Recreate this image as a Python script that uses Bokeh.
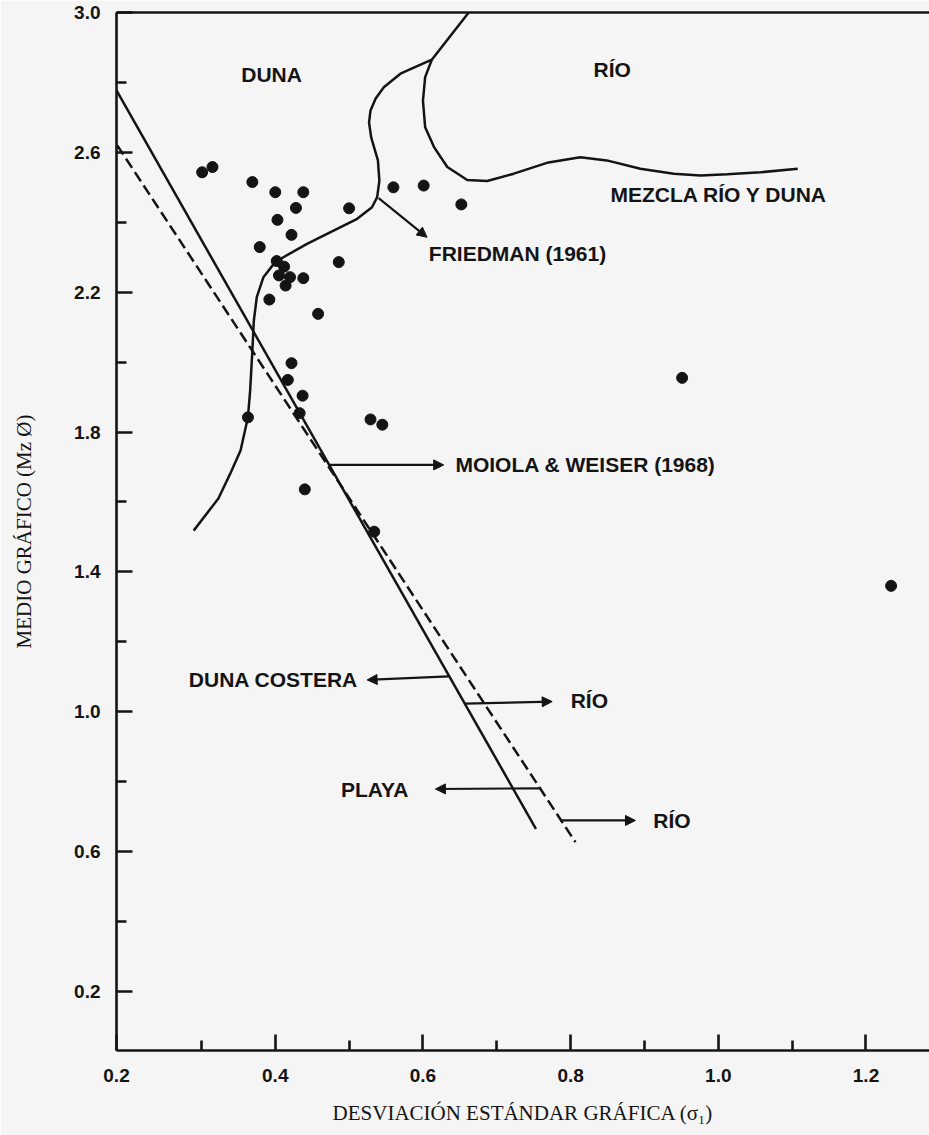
from bokeh.plotting import figure
from bokeh.models import (FixedTicker, LinearAxis, Arrow, NormalHead, Range1d,
                          NumeralTickFormatter)
from bokeh.core.properties import value
from bokeh.embed import file_html
from bokeh.resources import INLINE

# --- sample points: graphic standard deviation (sigma1) vs graphic mean (Mz, phi)
sigma1 = [0.301, 0.315, 0.369, 0.400, 0.438, 0.428, 0.403, 0.422, 0.379, 0.500,
          0.486, 0.402, 0.412, 0.405, 0.420, 0.414, 0.438, 0.392, 0.458, 0.422,
          0.417, 0.437, 0.433, 0.363, 0.529, 0.545, 0.440, 0.534, 0.560, 0.601,
          0.652, 0.951, 1.234]
mz = [2.543, 2.558, 2.515, 2.486, 2.486, 2.441, 2.407, 2.364, 2.329, 2.440,
      2.286, 2.289, 2.273, 2.248, 2.243, 2.219, 2.240, 2.179, 2.138, 1.997,
      1.949, 1.904, 1.854, 1.842, 1.836, 1.821, 1.636, 1.515, 2.500, 2.505,
      2.451, 1.955, 1.360]

# --- Friedman (1961) boundary: dune field limit
dune_x = [0.2895, 0.323, 0.339, 0.353, 0.363, 0.366, 0.369, 0.371, 0.375, 0.384,
          0.398, 0.411, 0.443, 0.479, 0.511, 0.531, 0.538, 0.541, 0.539, 0.530,
          0.527, 0.529, 0.536, 0.547, 0.5695, 0.612, 0.662]
dune_y = [1.518, 1.610, 1.681, 1.747, 1.842, 1.919, 2.033, 2.119, 2.186, 2.243,
          2.281, 2.300, 2.338, 2.376, 2.410, 2.443, 2.472, 2.519, 2.577, 2.642,
          2.685, 2.720, 2.754, 2.786, 2.825, 2.865, 3.000]

# --- Friedman (1961) boundary: river field limit
river_x = [0.612, 0.603, 0.600, 0.603, 0.615, 0.633, 0.660, 0.687, 0.723, 0.768,
           0.813, 0.849, 0.8945, 0.9396, 0.976, 1.012, 1.057, 1.1076]
river_y = [2.865, 2.815, 2.748, 2.672, 2.615, 2.558, 2.521, 2.518, 2.539, 2.570,
           2.586, 2.577, 2.553, 2.539, 2.534, 2.537, 2.543, 2.553]

# --- Moiola & Weiser (1968) discriminant lines
coastal_x = [0.185, 0.753]
coastal_y = [2.777, 0.665]
beach_x = [0.186, 0.8065]
beach_y = [2.620, 0.627]

# --- axis ticks
x_major = [0.185, 0.4, 0.6, 0.8, 1.0, 1.2]
x_minor = [0.3, 0.5, 0.7, 0.9, 1.1]
y_major = [0.2, 0.6, 1.0, 1.4, 1.8, 2.2, 2.6, 3.0]
y_minor = [0.4, 0.8, 1.2, 1.6, 2.0, 2.4, 2.8]

# --- region labels (text, x, y)
labels = [
    ("DUNA", 0.354, 2.824),
    ("RÍO", 0.831, 2.837),
    ("MEZCLA RÍO Y DUNA", 0.854, 2.479),
    ("FRIEDMAN (1961)", 0.608, 2.311),
    ("MOIOLA & WEISER (1968)", 0.644, 1.707),
    ("DUNA COSTERA", 0.283, 1.092),
    ("RÍO", 0.800, 1.032),
    ("PLAYA", 0.489, 0.778),
    ("RÍO", 0.912, 0.689),
]

# --- pointer arrows (x_start, y_start, x_end, y_end)
arrows = [
    (0.540, 2.469, 0.6056, 2.357),
    (0.4724, 1.706, 0.6281, 1.706),
    (0.6349, 1.101, 0.5244, 1.091),
    (0.6575, 1.023, 0.775, 1.029),
    (0.759, 0.781, 0.6169, 0.779),
    (0.786, 0.689, 0.8878, 0.689),
]

INK = "#141414"
BG = "#f5f5f5"
SANS = "Liberation Sans"
SERIF = "Liberation Serif"

p = figure(width=929, height=1135,
           x_range=Range1d(0.185, 1.286), y_range=Range1d(0.031, 3.0),
           output_backend="svg", toolbar_location=None,
           min_border_left=116, min_border_top=12, min_border_bottom=85,
           min_border_right=0)
p.background_fill_color = BG
p.border_fill_color = BG
p.outline_line_color = None
p.grid.visible = False

for ax in (p.xaxis[0], p.yaxis[0]):
    ax.axis_line_width = 2.6
    ax.axis_line_color = INK
    ax.major_tick_line_width = 2.6
    ax.minor_tick_line_width = 2.6
    ax.major_tick_line_color = INK
    ax.minor_tick_line_color = INK
    ax.major_tick_in = 16
    ax.major_tick_out = 0
    ax.minor_tick_in = 10
    ax.minor_tick_out = 0
    ax.major_label_text_font = SANS
    ax.major_label_text_font_style = "bold"
    ax.major_label_text_font_size = "19px"
    ax.major_label_text_color = INK
    ax.axis_label_text_font = SERIF
    ax.axis_label_text_font_style = "normal"
    ax.axis_label_text_font_size = "21px"
    ax.axis_label_text_color = INK
    ax.formatter = NumeralTickFormatter(format="0.0")

p.xaxis[0].ticker = FixedTicker(ticks=x_major, minor_ticks=x_minor)
p.yaxis[0].ticker = FixedTicker(ticks=y_major, minor_ticks=y_minor)
p.xaxis[0].major_label_standoff = 18
p.yaxis[0].major_label_standoff = 16
p.xaxis[0].axis_label_standoff = 16
p.yaxis[0].axis_label_standoff = 35
p.xaxis[0].axis_label = "DESVIACIÓN ESTÁNDAR GRÁFICA (σ₁)"
p.yaxis[0].axis_label = "MEDIO GRÁFICO (Mz Ø)"

# top frame line
top = LinearAxis(ticker=FixedTicker(ticks=[]), major_tick_in=0, major_tick_out=0,
                 minor_tick_in=0, minor_tick_out=0, major_label_standoff=0,
                 major_label_text_font_size="0px", axis_line_width=2.6,
                 axis_line_color=INK)
p.add_layout(top, "above")

# discriminant lines
p.line(coastal_x, coastal_y, line_width=2.5, line_color=INK)
p.line(beach_x, beach_y, line_width=2.5, line_color=INK, line_dash="11 5")

# Friedman field boundaries
p.line(dune_x, dune_y, line_width=2.5, line_color=INK, line_join="round")
p.line(river_x, river_y, line_width=2.5, line_color=INK, line_join="round")

# samples
p.scatter(sigma1, mz, size=11, fill_color=INK, line_color=INK)

# arrows
for xs, ys, xe, ye in arrows:
    p.add_layout(Arrow(x_start=xs, y_start=ys, x_end=xe, y_end=ye,
                       line_width=2.2, line_color=INK,
                       end=NormalHead(size=10, fill_color=INK, line_color=INK,
                                      line_width=1)))

# labels
p.text(x=[l[1] for l in labels], y=[l[2] for l in labels],
       text=[l[0] for l in labels], text_font=value(SANS),
       text_font_style="bold", text_font_size="21px", text_color=INK,
       text_baseline="middle", text_align="left")

open("out.html", "w").write(file_html(p, INLINE))
